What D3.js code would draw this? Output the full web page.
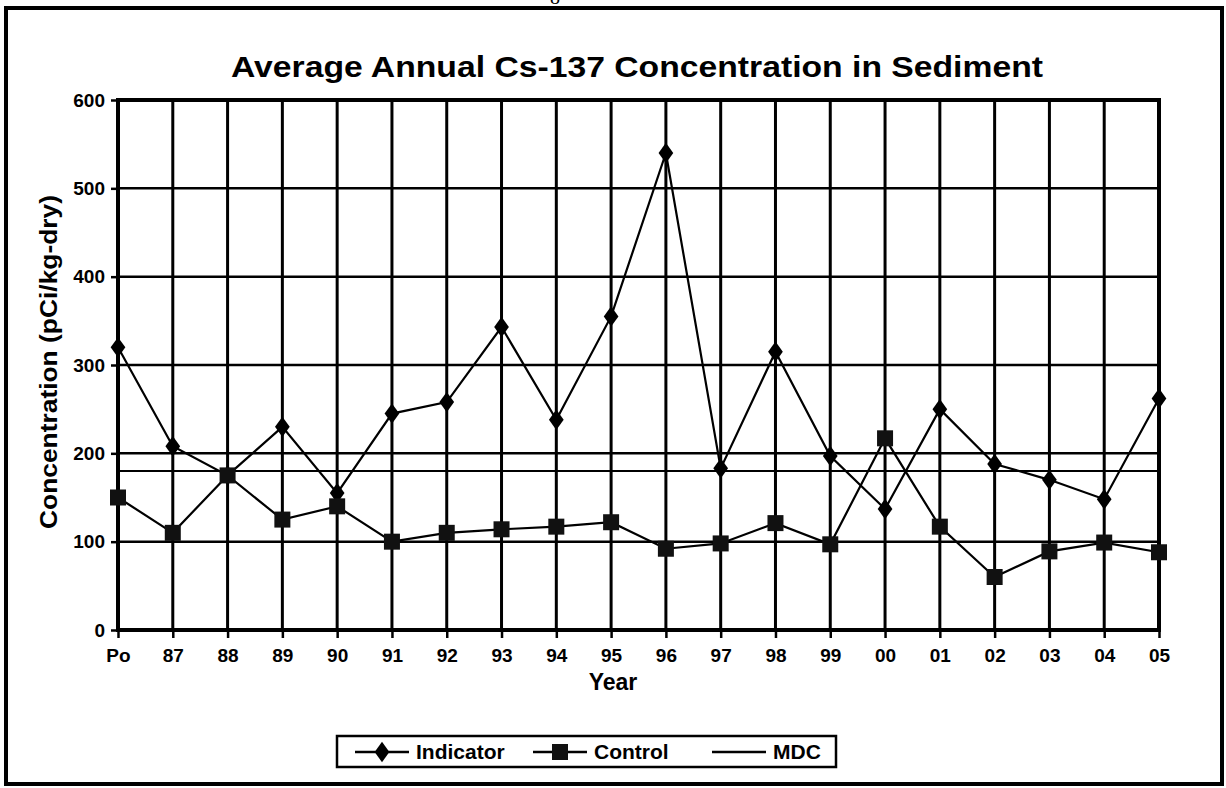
<!DOCTYPE html>
<html>
<head>
<meta charset="utf-8">
<script src="https://cdn.jsdelivr.net/npm/d3@7"></script>
<style>
  body { margin: 0; background: #fff; }
  svg { display: block; font-family: "Liberation Sans", Arial, sans-serif; font-weight: bold; }
  .grid line { stroke: #000; }
  .series path { fill: none; stroke: #000; stroke-width: 2.2; }
</style>
</head>
<body>
<svg></svg>
<script>
// Average Annual Cs-137 Concentration in Sediment

// Data
var years = ["Po", "87", "88", "89", "90", "91", "92", "93", "94", "95",
             "96", "97", "98", "99", "00", "01", "02", "03", "04", "05"];
var indicator = [320, 208, 175, 230, 155, 245, 258, 343, 238, 355,
                 540, 183, 315, 197, 137, 250, 188, 170, 148, 262];
var control = [150, 110, 175, 125, 140, 100, 110, 114, 117, 122,
               92, 98, 121, 97, 217, 117, 60, 89, 99, 88];
var mdc = 180;
var yTicks = [0, 100, 200, 300, 400, 500, 600];

// Layout
var svgWidth = 1226,
    svgHeight = 788,
    plot = {left: 118, right: 1159, top: 100, bottom: 630};

var x = d3.scalePoint().domain(years).range([plot.left, plot.right]);
var y = d3.scaleLinear().domain([0, 600]).range([plot.bottom, plot.top]);

var svg = d3.select("svg")
  .attr("width", svgWidth)
  .attr("height", svgHeight);

// page frame
svg.append("rect")
  .attr("x", 6).attr("y", 8)
  .attr("width", 1216).attr("height", 776)
  .attr("fill", "none")
  .attr("stroke", "#000")
  .attr("stroke-width", 4);

// page number, mostly cut off by the scan
svg.append("text")
  .attr("x", 555).attr("y", 4)
  .attr("text-anchor", "middle")
  .style("font-family", "'Liberation Serif', serif")
  .style("font-weight", "normal")
  .style("font-size", "20px")
  .text("8");

drawGrid();
drawAxes();
drawSeries();
drawTexts();
drawLegend();

function drawGrid() {
  var grid = svg.append("g").classed("grid", true);

  grid.selectAll(".h")
    .data(yTicks.filter(function (d) { return d > 0 && d < 600; }))
    .enter().append("line")
    .attr("x1", plot.left).attr("x2", plot.right)
    .attr("y1", function (d) { return y(d); })
    .attr("y2", function (d) { return y(d); })
    .attr("stroke-width", 2.5);

  grid.selectAll(".v")
    .data(years)
    .enter().append("line")
    .attr("x1", function (d) { return x(d); })
    .attr("x2", function (d) { return x(d); })
    .attr("y1", plot.top).attr("y2", plot.bottom)
    .attr("stroke-width", 3);

  // MDC line
  grid.append("line")
    .attr("x1", plot.left).attr("x2", plot.right)
    .attr("y1", y(mdc)).attr("y2", y(mdc))
    .attr("stroke-width", 2.2);

  // plot frame
  svg.append("rect")
    .attr("x", plot.left).attr("y", plot.top)
    .attr("width", plot.right - plot.left)
    .attr("height", plot.bottom - plot.top)
    .attr("fill", "none")
    .attr("stroke", "#000")
    .attr("stroke-width", 4);
}

function drawAxes() {
  var yAxis = svg.append("g")
    .attr("transform", "translate(" + plot.left + ",0)")
    .call(d3.axisLeft(y).tickValues(yTicks).tickSize(7).tickPadding(6).tickFormat(d3.format("d")));
  yAxis.select(".domain").remove();
  yAxis.selectAll(".tick line").attr("stroke-width", 2.5);
  yAxis.selectAll("text")
    .style("font-size", "19px")
    .style("font-family", "'Liberation Sans', Arial, sans-serif")
    .style("font-weight", "bold")
    .attr("fill", "#000");

  var xAxis = svg.append("g")
    .attr("transform", "translate(0," + plot.bottom + ")")
    .call(d3.axisBottom(x).tickSize(8).tickPadding(11));
  xAxis.select(".domain").remove();
  xAxis.selectAll(".tick line").attr("stroke-width", 2.5);
  xAxis.selectAll("text")
    .style("font-size", "19px")
    .style("font-family", "'Liberation Sans', Arial, sans-serif")
    .style("font-weight", "bold")
    .attr("fill", "#000");
}

function drawSeries() {
  var line = d3.line()
    .x(function (d, i) { return x(years[i]); })
    .y(function (d) { return y(d); });

  var series = svg.append("g").classed("series", true);
  series.append("path").attr("d", line(indicator));
  series.append("path").attr("d", line(control));

  var diamond = d3.symbol().type(d3.symbolDiamond).size(120);
  series.selectAll(".ind")
    .data(indicator)
    .enter().append("path")
    .attr("transform", function (d, i) { return "translate(" + [x(years[i]), y(d)] + ") scale(1.25,1)"; })
    .attr("d", diamond)
    .style("fill", "#000").style("stroke", "none");

  series.selectAll(".ctl")
    .data(control)
    .enter().append("rect")
    .attr("x", function (d, i) { return x(years[i]) - 8; })
    .attr("y", function (d) { return y(d) - 8; })
    .attr("width", 16).attr("height", 16)
    .attr("fill", "#111");
}

function drawTexts() {
  svg.append("text")
    .attr("x", 637).attr("y", 77)
    .attr("text-anchor", "middle")
    .attr("textLength", 812)
    .attr("lengthAdjust", "spacingAndGlyphs")
    .style("font-size", "30px")
    .text("Average Annual Cs-137 Concentration in Sediment");

  svg.append("text")
    .attr("transform", "translate(" + [57, 362] + ") rotate(-90)")
    .attr("text-anchor", "middle")
    .attr("textLength", 334)
    .attr("lengthAdjust", "spacingAndGlyphs")
    .style("font-size", "24px")
    .text("Concentration (pCi/kg-dry)");

  svg.append("text")
    .attr("x", 613).attr("y", 690)
    .attr("text-anchor", "middle")
    .style("font-size", "23px")
    .text("Year");
}

function drawLegend() {
  var legend = svg.append("g").classed("legend", true);
  legend.append("rect")
    .attr("x", 337).attr("y", 736)
    .attr("width", 499).attr("height", 31)
    .attr("fill", "#fff")
    .attr("stroke", "#000")
    .attr("stroke-width", 2.5);

  var items = [
    {name: "Indicator", x: 355, mark: "diamond"},
    {name: "Control", x: 533, mark: "square"},
    {name: "MDC", x: 712, mark: "none"}
  ];
  var ly = 752;

  var item = legend.selectAll(".item")
    .data(items)
    .enter().append("g")
    .attr("transform", function (d) { return "translate(" + [d.x, ly] + ")"; });

  item.append("line")
    .attr("x1", 0).attr("x2", 54)
    .attr("stroke", "#000").attr("stroke-width", 2.5);

  item.filter(function (d) { return d.mark === "diamond"; })
    .append("path")
    .attr("transform", "translate(27,0) scale(1.25,1)")
    .attr("d", d3.symbol().type(d3.symbolDiamond).size(120));

  item.filter(function (d) { return d.mark === "square"; })
    .append("rect")
    .attr("x", 19).attr("y", -8)
    .attr("width", 16).attr("height", 16)
    .attr("fill", "#111");

  item.append("text")
    .attr("x", 61).attr("y", 7)
    .style("font-size", "21px")
    .text(function (d) { return d.name; });
}
</script>
</body>
</html>
